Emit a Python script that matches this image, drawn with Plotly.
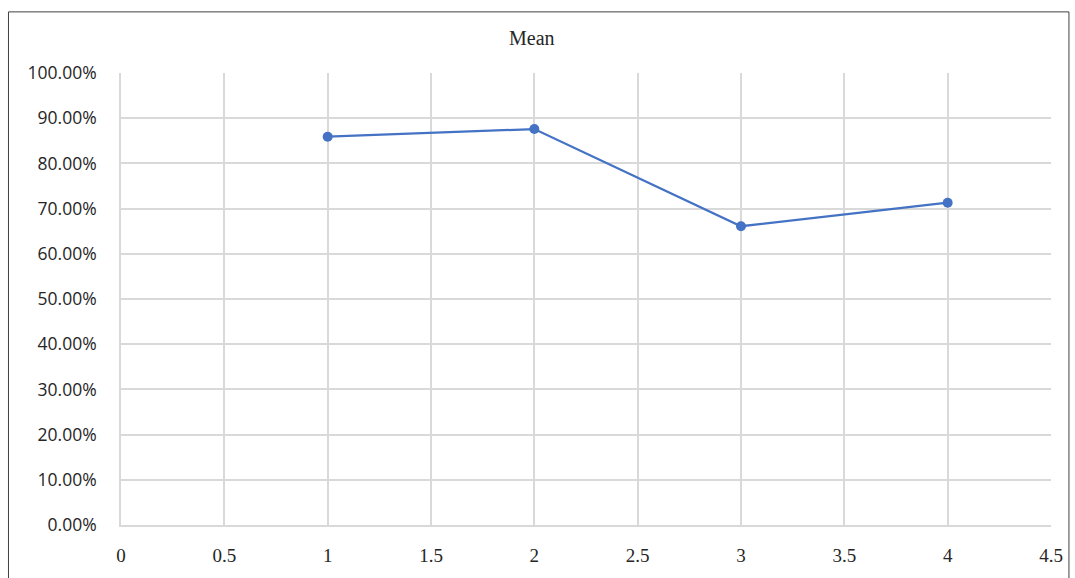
import plotly.graph_objects as go

# Mean score per step
steps = [1, 2, 3, 4]
mean_values = [0.859, 0.876, 0.661, 0.713]

x_ticks = [0, 0.5, 1, 1.5, 2, 2.5, 3, 3.5, 4, 4.5]
x_tick_text = ["0", "0.5", "1", "1.5", "2", "2.5", "3", "3.5", "4", "4.5"]
y_ticks = [i / 10 for i in range(11)]
y_tick_text = [f"{v * 100:.2f}%" for v in y_ticks]

line_color = "#4472C4"
grid_color = "#D9D9D9"

fig = go.Figure()
fig.add_trace(go.Scatter(
    x=steps,
    y=mean_values,
    mode="lines+markers",
    line=dict(color=line_color, width=2.25),
    marker=dict(color=line_color, size=10),
    showlegend=False,
    hoverinfo="x+y",
))

fig.update_layout(
    autosize=True,
    margin=dict(l=121, r=20, t=73, b=50),
    paper_bgcolor="white",
    plot_bgcolor="white",
    xaxis=dict(
        range=[0, 4.5],
        tickvals=x_ticks,
        ticktext=x_tick_text,
        showgrid=True,
        gridcolor=grid_color,
        gridwidth=1.6,
        zeroline=False,
        showline=True,
        linecolor=grid_color,
        linewidth=1.6,
        mirror=False,
        ticks="",
        ticklabelstandoff=12,
        tickfont=dict(family="Liberation Serif, Times New Roman, serif", size=19, color="#262626"),
    ),
    yaxis=dict(
        range=[0, 1],
        tickvals=y_ticks,
        ticktext=y_tick_text,
        showgrid=True,
        gridcolor=grid_color,
        gridwidth=1.6,
        zeroline=False,
        showline=True,
        linecolor=grid_color,
        linewidth=1.6,
        ticks="",
        ticklabelstandoff=19,
        tickfont=dict(family="Open Sans, Liberation Sans, sans-serif", size=17.5, color="#262626"),
    ),
    annotations=[dict(
        text="Mean",
        x=0.442, y=1.078,
        xref="paper", yref="paper",
        xanchor="center", yanchor="middle",
        showarrow=False,
        font=dict(family="Liberation Serif, Times New Roman, serif", size=20, color="#262626"),
    )],
    shapes=[dict(
        type="rect",
        xref="paper", yref="paper",
        x0=-0.121, x1=1.0193, y0=-0.3, y1=1.1352,
        line=dict(color="#404040", width=1),
        fillcolor="rgba(0,0,0,0)",
        layer="below",
    )],
)

fig.write_html("out.html", config={"responsive": True}, default_width="100%", default_height="100vh")
